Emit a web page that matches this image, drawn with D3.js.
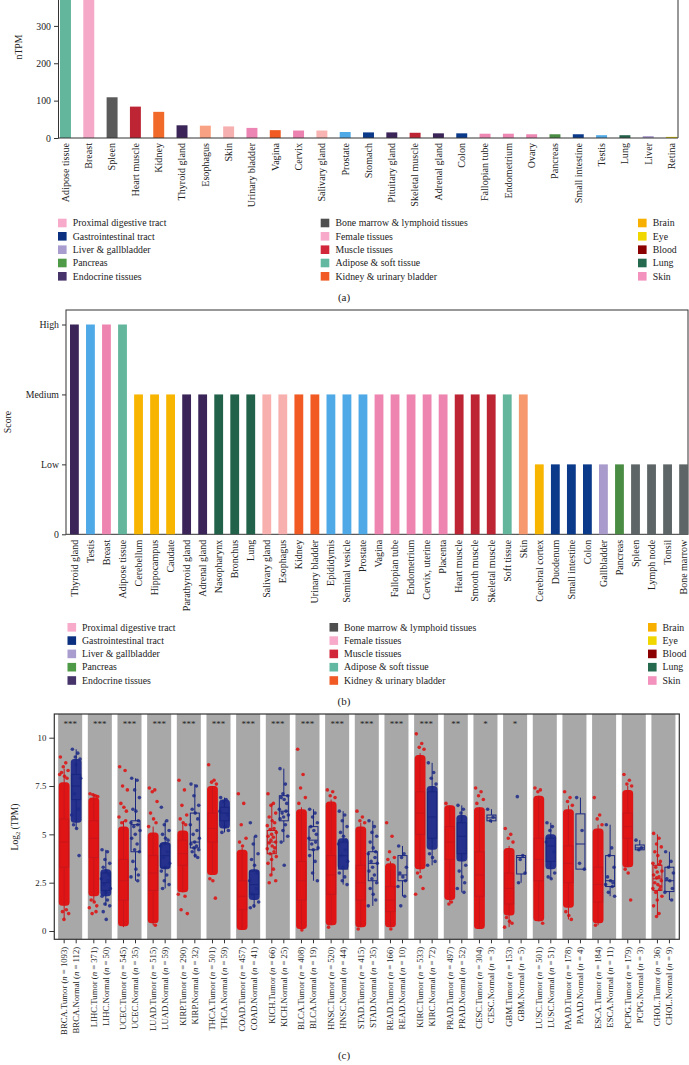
<!DOCTYPE html>
<html>
<head>
<meta charset="utf-8">
<script src="https://cdn.jsdelivr.net/npm/d3@7"></script>
<style>
  body { margin: 0; background: #fff; }
  text { font-family: "Liberation Serif", "DejaVu Serif", serif; fill: #222; }
</style>
</head>
<body>
<script>
// ---- panel (a): tissue RNA expression (nTPM)
const tissuesA = ["Adipose tissue", "Breast", "Spleen", "Heart muscle", "Kidney", "Thyroid gland", "Esophagus", "Skin",
  "Urinary bladder", "Vagina", "Cervix", "Salivary gland", "Prostate", "Stomach", "Pituitary gland", "Skeletal muscle",
  "Adrenal gland", "Colon", "Fallopian tube", "Endometrium", "Ovary", "Pancreas", "Small intestine", "Testis", "Lung",
  "Liver", "Retina"];
const nTPM = [520, 470, 109, 84, 70, 34, 33, 31, 27, 21, 20, 20, 16, 15, 15, 14, 12.5, 12.5, 11.5, 11.5, 10, 10, 10,
  7.5, 7.5, 5, 3];
const colorsA = ["#63b59b", "#f5a8c8", "#5a5a5a", "#bd2535", "#f26a2a", "#3b2458", "#f9a283", "#f6b0b0", "#ec85b3",
  "#f15a22", "#ec82b0", "#f7b4b2", "#4ea9e6", "#0c3a8b", "#3b2458", "#bd2535", "#3b2458", "#0c3a8b", "#ee87b4",
  "#ee87b4", "#ee87b4", "#4b8c45", "#0c3a8b", "#4ea9e6", "#24614a", "#a99ccc", "#e8d100"];
const ticksA = [0, 100, 200, 300];

// ---- panel (b): protein expression score
const tissuesB = ["Thyroid gland", "Testis", "Breast", "Adipose tissue", "Cerebellum", "Hippocampus", "Caudate",
  "Parathyroid gland", "Adrenal gland", "Nasopharynx", "Bronchus", "Lung", "Salivary gland", "Esophagus", "Kidney",
  "Urinary bladder", "Epididymis", "Seminal vesicle", "Prostate", "Vagina", "Fallopian tube", "Endometrium",
  "Cervix, uterine", "Placenta", "Heart muscle", "Smooth muscle", "Skeletal muscle", "Soft tissue", "Skin",
  "Cerebral cortex", "Duodenum", "Small intestine", "Colon", "Gallbladder", "Pancreas", "Spleen", "Lymph node",
  "Tonsil", "Bone marrow"];
const scoreB = [3, 3, 3, 3, 2, 2, 2, 2, 2, 2, 2, 2, 2, 2, 2, 2, 2, 2, 2, 2, 2, 2, 2, 2, 2, 2, 2, 2, 2,
  1, 1, 1, 1, 1, 1, 1, 1, 1, 1];
const colorsB = ["#3b2458", "#4ea9e6", "#ee84b0", "#63b59b", "#f8b500", "#f8b500", "#f8b500", "#3b2458", "#3b2458",
  "#22614a", "#22614a", "#22614a", "#f7b0ae", "#f7b0ae", "#f15a22", "#f15a22", "#4ea9e6", "#4ea9e6", "#4ea9e6",
  "#ee84b0", "#ee84b0", "#ee84b0", "#ee84b0", "#ee84b0", "#bd2535", "#bd2535", "#bd2535", "#63b59b", "#f7996f",
  "#f8b500", "#0c3a8b", "#0c3a8b", "#0c3a8b", "#a99ccc", "#4b8c45", "#5d6567", "#5d6567", "#5d6567", "#5d6567"];
const scoreLabels = ["0", "Low", "Medium", "High"];

// ---- legend shared by (a) and (b)
const legendNames = ["Proximal digestive tract", "Gastrointestinal tract", "Liver & gallbladder", "Pancreas",
  "Endocrine tissues", "Bone marrow & lymphoid tissues", "Female tissues", "Muscle tissues", "Adipose & soft tissue",
  "Kidney & urinary bladder", "Brain", "Eye", "Blood", "Lung", "Skin"];
const legendColors = ["#f7aac9", "#0c3080", "#a99ccf", "#4e9a46", "#45336a", "#4f4f4f", "#f7aac9", "#d2263a",
  "#62b8a0", "#f15a24", "#f8b000", "#f0d700", "#8b0000", "#256a4f", "#f392bd"];

// ---- panel (c): tumor vs normal, log2(TPM)
const cancers = ["BRCA", "LIHC", "UCEC", "LUAD", "KIRP", "THCA", "COAD", "KICH", "BLCA", "HNSC", "STAD", "READ",
  "KIRC", "PRAD", "CESC", "GBM", "LUSC", "PAAD", "ESCA", "PCPG", "CHOL"];
const nTumor = [1093, 371, 545, 515, 290, 501, 457, 66, 408, 520, 415, 166, 533, 497, 304, 153, 501, 178, 184, 179, 36];
const nNormal = [112, 50, 35, 59, 32, 59, 41, 25, 19, 44, 35, 10, 72, 52, 3, 5, 51, 4, 11, 3, 9];
const stars = ["***", "***", "***", "***", "***", "***", "***", "***", "***", "***", "***", "***", "***", "**", "*",
  "*", "", "", "", "", ""];
const yTicksC = [0, 2.5, 5, 7.5, 10];
// box stats: [whisker low, q1, median, q3, whisker high]
const tumorBox = [
  [0.6, 3.3, 4.6, 5.8, 8.4], [1.5, 3.8, 4.8, 5.7, 7.1], [0.2, 1.6, 2.6, 3.7, 5.7], [0.3, 2.1, 3.0, 3.9, 5.4],
  [2.0, 3.4, 4.0, 4.7, 5.6], [3.0, 4.6, 5.3, 6.1, 7.5], [0.1, 1.1, 1.8, 2.6, 4.3], [2.9, 4.0, 4.6, 5.2, 6.6],
  [0.1, 1.6, 2.6, 3.6, 6.4], [0.3, 1.9, 2.9, 3.9, 6.8], [0.2, 1.6, 2.5, 3.4, 5.6], [0.2, 1.0, 1.6, 2.3, 3.6],
  [3.0, 5.0, 6.1, 7.2, 9.2], [1.5, 3.7, 4.6, 5.4, 6.5], [0.1, 1.8, 2.9, 4.1, 6.4], [0.2, 1.4, 2.2, 3.0, 4.4],
  [0.5, 2.6, 3.7, 4.8, 7.0], [0.6, 2.5, 3.5, 4.4, 6.5], [0.3, 1.5, 2.4, 3.3, 5.5], [3.3, 4.8, 5.4, 6.1, 7.5],
  [0.8, 2.1, 2.7, 3.4, 5.0]];
const normalBox = [
  [5.3, 6.8, 7.5, 8.1, 9.4], [1.3, 2.1, 2.5, 3.0, 4.2], [2.6, 4.1, 5.5, 5.7, 7.9], [2.2, 3.3, 3.9, 4.5, 5.7],
  [3.8, 4.3, 4.6, 6.1, 7.6], [5.1, 5.7, 6.1, 6.4, 6.9], [1.2, 1.9, 2.4, 3.1, 4.9], [4.6, 5.7, 6.2, 7.0, 8.4],
  [2.6, 4.2, 4.7, 5.4, 6.3], [2.4, 3.2, 3.9, 4.6, 6.2], [1.3, 2.6, 3.5, 4.1, 5.7], [1.8, 2.6, 2.9, 3.9, 4.4],
  [3.4, 4.8, 5.9, 7.2, 8.7], [2.0, 4.0, 4.9, 5.6, 6.5], [5.6, 5.7, 5.85, 6.0, 6.3], [2.5, 2.95, 3.8, 3.9, 3.9],
  [2.7, 3.6, 4.4, 4.8, 5.6], [3.2, 3.2, 4.5, 6.06, 6.9], [1.8, 2.3, 2.6, 3.9, 5.5], [4.2, 4.2, 4.3, 4.45, 4.7],
  [1.6, 2.04, 2.6, 3.3, 4.1]];
// dense part of each point cloud [low, high] (null = only single points)
const tumorCore = [[1.3, 7.7], [1.8, 6.9], [0.25, 5.4], [0.4, 5.1], [2.0, 5.2], [2.9, 7.5], [0.05, 4.2], null,
  [0.1, 6.3], [0.3, 6.7], [0.2, 5.4], [0.2, 3.5], [3.2, 9.1], [1.6, 6.5], [0.1, 6.4], [0.8, 4.3], [0.5, 7.0],
  [1.2, 6.3], [0.4, 5.3], [3.3, 7.3], null];
const normalCore = [[5.6, 8.9], [1.8, 3.2], null, [3.2, 4.6], null, [5.3, 6.8], [1.6, 3.2], null, null, [3.2, 4.8],
  null, null, [4.2, 7.5], [3.6, 6.0], null, null, [3.2, 5.0], null, null, null, null];
// individual points outside or around the dense part
const tumorPts = [
  [9.0, 8.7, 8.5, 8.3, 8.2, 8.0, 7.9, 8.1, 1.1, 1.0, 0.9, 0.6],
  [7.1, 7.0, 7.05, 6.95, 1.6, 1.5, 1.3, 1.2, 1.0, 0.9],
  [8.5, 8.3, 7.5, 7.3, 6.6, 6.4, 6.2, 5.9, 5.7, 5.6],
  [7.4, 7.3, 7.2, 6.7, 6.1, 5.8, 5.6, 5.4, 0.3],
  [7.8, 7.3, 6.5, 6.0, 5.8, 5.6, 5.5, 1.9, 1.8, 1.1, 0.9],
  [8.6, 7.8, 7.7, 7.6, 2.7, 2.6, 1.7],
  [7.1, 6.6, 5.5, 4.8, 4.6, 4.4],
  [7.1, 6.6, 6.5, 6.1, 5.9, 5.7, 5.6, 5.45, 5.3, 5.25, 5.1, 5.0, 4.9, 4.85, 4.7, 4.6, 4.55, 4.4, 4.3, 4.25, 4.1,
    4.0, 3.85, 3.7, 3.5, 3.2, 2.9, 2.6, 2.5],
  [9.4, 8.1, 7.4, 6.9, 6.6, 0.05],
  [7.3, 7.2, 7.0, 6.9, 0.2],
  [6.2, 5.9, 5.7, 5.6, 0.1],
  [5.6, 4.9, 4.1, 3.8, 3.7, 0.1],
  [10.2, 9.7, 9.5, 9.4, 3.0, 2.8, 2.2, 1.9],
  [6.6, 1.5, 1.4],
  [7.4, 7.2, 7.0, 6.8, 6.6],
  [5.3, 5.0, 4.8, 4.6, 0.7, 0.5, 0.4, 0.2],
  [7.4, 7.3, 7.2, 0.4],
  [7.2, 6.9, 6.7, 6.5, 1.0, 0.8, 0.6],
  [6.9, 6.0, 5.8, 5.5, 0.3],
  [8.1, 7.8, 7.6, 7.5, 3.2, 3.0, 1.6],
  [5.05, 4.8, 4.5, 4.35, 4.1, 3.9, 3.6, 3.5, 3.45, 3.3, 3.1, 3.05, 2.9, 2.8, 2.75, 2.6, 2.5, 2.4, 2.3, 2.2, 2.15,
    2.0, 1.8, 1.6, 1.3, 0.9, 0.75]];
const normalPts = [
  [9.4, 9.2, 9.0, 8.9, 5.5, 5.3, 3.9, 6.0, 6.3, 7.1, 7.9, 8.6],
  [4.2, 4.1, 3.7, 3.5, 3.3, 3.1, 2.9, 2.7, 2.6, 2.4, 2.2, 2.0, 1.8, 1.6, 1.4, 1.3, 1.0, 0.6],
  [7.9, 7.8, 7.3, 6.9, 6.3, 6.2, 5.7, 5.6, 5.5, 5.4, 5.2, 5.0, 4.8, 4.5, 4.2, 4.1, 3.6, 3.2, 2.9, 2.8, 2.6],
  [6.4, 5.7, 5.5, 5.2, 5.0, 4.8, 4.7, 4.4, 4.1, 3.8, 3.5, 3.3, 3.1, 2.9, 2.6, 2.4, 2.2],
  [7.6, 7.5, 7.0, 6.5, 6.3, 6.1, 5.8, 5.5, 5.2, 5.0, 4.8, 4.6, 4.5, 4.4, 4.3, 4.2, 4.1, 3.9, 3.8],
  [6.9, 6.8, 6.7, 5.2, 5.1, 5.4, 6.0, 6.2],
  [5.6, 4.9, 4.5, 4.0, 3.7, 3.4, 3.0, 2.6, 2.2, 1.9, 1.5, 1.3, 1.2],
  [8.4, 7.6, 7.1, 7.0, 6.9, 6.8, 6.6, 6.3, 6.2, 6.1, 6.0, 5.9, 5.8, 5.5, 5.2, 4.9, 4.6, 3.4],
  [6.3, 6.1, 5.9, 5.6, 5.4, 5.2, 5.0, 4.8, 4.6, 4.5, 4.3, 4.2, 3.9, 3.6, 3.0, 2.6],
  [6.2, 6.0, 5.7, 5.4, 5.1, 4.9, 4.7, 4.5, 4.2, 3.9, 3.6, 3.3, 3.0, 2.8, 2.6, 2.4],
  [5.7, 5.4, 5.1, 4.9, 4.6, 4.3, 4.1, 4.0, 3.8, 3.6, 3.5, 3.3, 3.1, 2.9, 2.7, 2.5, 2.2, 1.9, 1.6, 1.3],
  [4.4, 4.0, 3.8, 3.3, 3.0, 2.8, 2.6, 2.3, 1.8, 1.3],
  [8.7, 8.2, 7.9, 7.6, 4.0, 3.8, 3.6, 3.4],
  [6.5, 6.3, 6.1, 3.4, 3.1, 2.8, 2.5, 2.2, 2.0],
  [6.3, 5.9, 5.7],
  [6.95, 3.9, 3.7, 3.0, 2.5],
  [5.6, 5.4, 5.2, 3.0, 2.8, 2.7, 4.1, 4.6],
  [6.9, 5.2, 3.5, 3.2],
  [5.5, 4.3, 3.9, 3.3, 2.8, 2.6, 2.5, 2.4, 2.3, 2.0, 1.8],
  [4.7, 4.3, 4.2],
  [4.1, 3.6, 3.3, 3.0, 2.7, 2.6, 2.2, 2.0, 1.6]];

const width = 689, height = 1065;
const axisColor = "#333";
const svg = d3.select("body").append("svg")
  .attr("width", width).attr("height", height)
  .style("display", "block");
svg.append("rect").attr("width", width).attr("height", height).attr("fill", "#fff");

function styleAxis(g, size) {
  g.selectAll("text").style("font-family", "'Liberation Serif', serif").style("font-size", size + "px").attr("fill", "#222");
  g.selectAll("line,path").attr("stroke", axisColor);
}

function rotateLabels(g, gap) {
  g.select(".domain").remove();
  g.selectAll("text")
    .attr("transform", "rotate(-90)")
    .attr("text-anchor", "end")
    .attr("x", -gap).attr("y", 0).attr("dy", "0.33em");
}

function drawLegend(g, swatchX, textDx, rowY) {
  legendNames.forEach((name, i) => {
    const col = Math.floor(i / 5), row = i % 5;
    g.append("rect")
      .attr("x", swatchX[col]).attr("y", rowY[row] - 4.3)
      .attr("width", 8.6).attr("height", 8.6)
      .attr("fill", legendColors[i]);
    g.append("text")
      .attr("x", swatchX[col] + textDx).attr("y", rowY[row]).attr("dy", "0.33em")
      .style("font-size", "9.8px")
      .text(name);
  });
}

// ================= panel (a)
const gA = svg.append("g");
const xA = d3.scaleBand().domain(tissuesA).range([60, 677]).paddingInner(0.53).paddingOuter(0);
const yA = d3.scaleLinear().domain([0, 380]).range([138, -4]);

gA.selectAll("rect.bar").data(tissuesA).join("rect")
  .attr("class", "bar")
  .attr("x", d => xA(d)).attr("width", xA.bandwidth())
  .attr("y", (d, i) => yA(nTPM[i]))
  .attr("height", (d, i) => yA(0) - yA(nTPM[i]))
  .attr("fill", (d, i) => colorsA[i]);

gA.append("g").attr("transform", "translate(58,0)")
  .call(d3.axisLeft(yA).tickValues(ticksA).tickSize(4).tickSizeOuter(0).tickPadding(3))
  .call(g => styleAxis(g, 9.8));
gA.append("line").attr("x1", 58).attr("x2", 678).attr("y1", yA(0)).attr("y2", yA(0)).attr("stroke", axisColor);
gA.append("line").attr("x1", 678).attr("x2", 678).attr("y1", -4).attr("y2", yA(0)).attr("stroke", axisColor);

gA.append("g").attr("transform", `translate(0,${yA(0)})`)
  .call(d3.axisBottom(xA).tickSize(0))
  .call(g => rotateLabels(g, 5))
  .call(g => styleAxis(g, 10.1));

gA.append("text").attr("transform", "translate(19,47) rotate(-90)")
  .attr("text-anchor", "middle").attr("dy", "0.33em").style("font-size", "9.8px").text("nTPM");

drawLegend(gA, [58, 320.7, 638], 14.8, [223, 236.3, 249.7, 263, 276.3]);
svg.append("text").attr("x", 344).attr("y", 297).attr("dy", "0.33em")
  .attr("text-anchor", "middle").style("font-size", "11px").text("(a)");

// ================= panel (b)
const gB = svg.append("g");
const xB = d3.scaleBand().domain(tissuesB).range([70, 688]).paddingInner(0.45).paddingOuter(0);
const yB = d3.scaleLinear().domain([0, 3]).range([534.3, 324.5]);

gB.append("rect").attr("x", 66).attr("y", 310).attr("width", 622).attr("height", yB(0) - 310)
  .attr("fill", "none").attr("stroke", axisColor);

gB.selectAll("rect.bar").data(tissuesB).join("rect")
  .attr("class", "bar")
  .attr("x", d => xB(d)).attr("width", xB.bandwidth())
  .attr("y", (d, i) => yB(scoreB[i]))
  .attr("height", (d, i) => yB(0) - yB(scoreB[i]))
  .attr("fill", (d, i) => colorsB[i]);

gB.append("g").attr("transform", "translate(66,0)")
  .call(d3.axisLeft(yB).tickValues([0, 1, 2, 3]).tickFormat(i => scoreLabels[i]).tickSize(4).tickSizeOuter(0).tickPadding(3))
  .call(g => g.select(".domain").remove())
  .call(g => styleAxis(g, 9.8));

gB.append("g").attr("transform", `translate(0,${yB(0)})`)
  .call(d3.axisBottom(xB).tickSize(0))
  .call(g => rotateLabels(g, 5.5))
  .call(g => styleAxis(g, 10));

gB.append("text").attr("transform", "translate(8,422) rotate(-90)")
  .attr("text-anchor", "middle").attr("dy", "0.33em").style("font-size", "9.8px").text("Score");

drawLegend(gB, [67.5, 329.5, 648], 14.5, [627.3, 640.6, 653.9, 667.2, 680.5]);
svg.append("text").attr("x", 344).attr("y", 701).attr("dy", "0.33em")
  .attr("text-anchor", "middle").style("font-size", "11px").text("(b)");

// ================= panel (c)
const gC = svg.append("g");
const frameC = { left: 54.3, right: 679.3, top: 714, bottom: 939.3 };
const xC = d3.scaleBand().domain(cancers).range([frameC.left, frameC.right]).paddingInner(0.19).paddingOuter(0.13);
const yC = d3.scaleLinear().domain([0, 10]).range([931, 737.7]);
const bw = xC.bandwidth();
const red = "#e10d0d", redBox = "#c8151b", blue = "#1d2a8a", blueBox = "#1a2780";
const jitter = [-3.8, 1.6, -0.9, 3.9, -2.6, 0.4, 2.9, -4.5, 2.2, -1.7, 4.5, -0.2];

gC.selectAll("rect.panel").data(cancers).join("rect")
  .attr("class", "panel")
  .attr("x", d => xC(d)).attr("width", bw)
  .attr("y", frameC.top).attr("height", frameC.bottom - frameC.top)
  .attr("fill", "#a8a8a8");

function drawGroup(cx, core, pts, box, fill, boxStroke) {
  if (core) {
    gC.append("rect")
      .attr("x", cx - 5.4).attr("width", 10.8)
      .attr("y", yC(core[1])).attr("height", yC(core[0]) - yC(core[1]))
      .attr("rx", 3.5)
      .attr("fill", fill).attr("opacity", 0.95);
  }
  gC.append("g").selectAll("circle").data(pts).join("circle")
    .attr("cx", (d, i) => cx + jitter[i % jitter.length])
    .attr("cy", d => yC(d))
    .attr("r", 1.8)
    .attr("fill", fill).attr("fill-opacity", 0.85);
  const bwid = 9;
  const bg = gC.append("g").attr("stroke", boxStroke).attr("stroke-width", 1).attr("fill", "none");
  bg.append("line").attr("x1", cx).attr("x2", cx).attr("y1", yC(box[0])).attr("y2", yC(box[1]));
  bg.append("line").attr("x1", cx).attr("x2", cx).attr("y1", yC(box[3])).attr("y2", yC(box[4]));
  bg.append("rect").attr("x", cx - bwid / 2).attr("width", bwid)
    .attr("y", yC(box[3])).attr("height", Math.max(0.8, yC(box[1]) - yC(box[3])));
  bg.append("line").attr("x1", cx - bwid / 2).attr("x2", cx + bwid / 2).attr("y1", yC(box[2])).attr("y2", yC(box[2]));
}

cancers.forEach((c, i) => {
  const x0 = xC(c);
  drawGroup(x0 + bw * 0.25, tumorCore[i], tumorPts[i], tumorBox[i], red, redBox);
  drawGroup(x0 + bw * 0.75, normalCore[i], normalPts[i], normalBox[i], blue, blueBox);
  gC.append("text")
    .attr("x", x0 + bw / 2).attr("y", 724.5).attr("dy", "0.33em")
    .attr("text-anchor", "middle").style("font-size", "9px").attr("fill", "#333")
    .text(stars[i]);
});

gC.append("rect").attr("x", frameC.left).attr("y", frameC.top)
  .attr("width", frameC.right - frameC.left).attr("height", frameC.bottom - frameC.top)
  .attr("fill", "none").attr("stroke", axisColor).attr("stroke-width", 1.2);

gC.append("g").attr("transform", `translate(${frameC.left},0)`)
  .call(d3.axisLeft(yC).tickValues(yTicksC).tickFormat(d => String(d)).tickSize(5).tickSizeOuter(0).tickPadding(3))
  .call(g => g.select(".domain").remove())
  .call(g => styleAxis(g, 8.8));

// two labels per cancer type (tumor / normal)
const labelsC = [];
cancers.forEach((c, i) => {
  labelsC.push({ x: xC(c) + bw * 0.25, name: c + ".Tumor", n: nTumor[i] });
  labelsC.push({ x: xC(c) + bw * 0.75, name: c + ".Normal", n: nNormal[i] });
});
const lab = gC.append("g").selectAll("g").data(labelsC).join("g")
  .attr("transform", d => `translate(${d.x},${frameC.bottom})`);
lab.append("line").attr("y1", 0).attr("y2", 4).attr("stroke", axisColor);
const lt = lab.append("text")
  .attr("transform", "rotate(-90)")
  .attr("text-anchor", "end").attr("x", -7.5).attr("dy", "0.33em")
  .style("font-size", "8.7px");
lt.append("tspan").text(d => d.name + " (");
lt.append("tspan").style("font-style", "italic").text("n");
lt.append("tspan").text(d => " = " + d.n + ")");

const yl = gC.append("text").attr("transform", "translate(15,827) rotate(-90)")
  .attr("text-anchor", "middle").attr("dy", "0.33em").style("font-size", "9.5px");
yl.append("tspan").text("Log");
yl.append("tspan").attr("dy", "2").style("font-size", "6.5px").text("2");
yl.append("tspan").attr("dy", "-2").text(" (TPM)");

svg.append("text").attr("x", 344).attr("y", 1055).attr("dy", "0.33em")
  .attr("text-anchor", "middle").style("font-size", "11px").text("(c)");
</script>
</body>
</html>
